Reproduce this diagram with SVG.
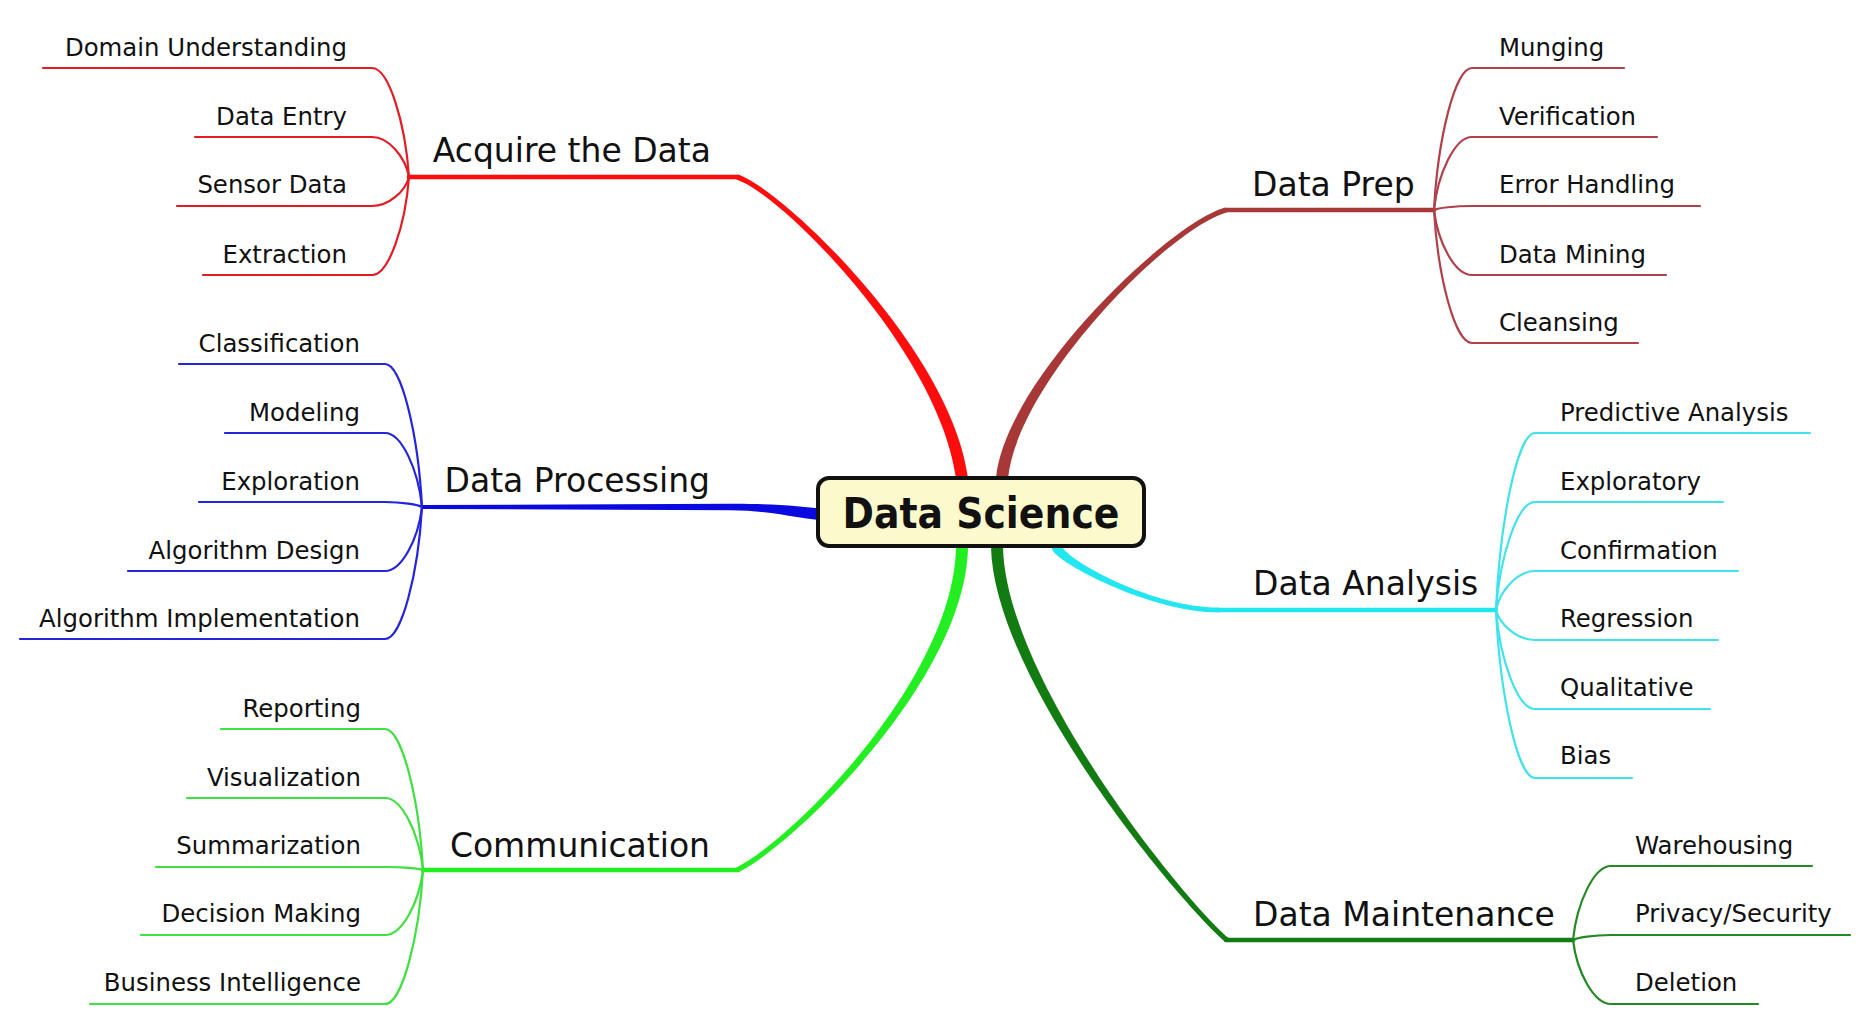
<svg xmlns="http://www.w3.org/2000/svg" width="1868" height="1026" viewBox="0 0 1868 1026">
  <style>
    .bg { fill: #ffffff; }
    .leaf { font-family: "DejaVu Sans", "Liberation Sans", sans-serif; font-size: 24.4px; fill: #111111; }
    .topic { font-family: "DejaVu Sans", "Liberation Sans", sans-serif; font-size: 33px; fill: #111111; }
    .root-text { font-family: "DejaVu Sans", "Liberation Sans", sans-serif; font-size: 42px; font-weight: bold; fill: #111111; }
    .root-box { fill: #fcf9cc; stroke: #111111; stroke-width: 4; }
    .twig { fill: none; stroke-width: 2.2; stroke-linecap: round; }
    .stem { fill: none; stroke-width: 4.6; stroke-linecap: round; }
    .red { stroke: #e31b23; } .red-f { fill: #ff0d0d; } .red-s { stroke: #ff0d0d; }
    .brown { stroke: #b0404a; } .brown-f { fill: #a83838; } .brown-s { stroke: #a83838; }
    .blue { stroke: #2424dc; } .blue-f { fill: #0a0ae0; } .blue-s { stroke: #0a0ae0; }
    .lime { stroke: #3fe03f; } .lime-f { fill: #22ee22; } .lime-s { stroke: #22ee22; }
    .cyan { stroke: #40e2ec; } .cyan-f { fill: #22e6f0; } .cyan-s { stroke: #22e6f0; }
    .forest { stroke: #228a22; } .forest-f { fill: #127c12; } .forest-s { stroke: #127c12; }
  </style>

  <rect class="bg" x="0" y="0" width="1868" height="1026"/>

  <!-- connectors: tapered main stems, then the thin twigs with their underlines -->
  <g id="connectors">
    <!-- Acquire the Data (red) -->
    <line class="stem red-s" x1="409" y1="177" x2="738" y2="177"/>
    <path class="red-f" d="M736.3,179.4 C779.3,192.4 939.1,350.8 956.1,478.8 L956.5,490 L968.3,490 L967.9,477.2 C950.9,349.2 780.7,187.6 737.7,174.6 Z"/>
    <path class="twig red" d="M43,68 H372 C388.7,68 405.3,122.5 409,177"/>
    <path class="twig red" d="M195,137 H372 C388.7,137 405.3,157 409,177"/>
    <path class="twig red" d="M177,206 H372 C388.7,206 405.3,191.5 409,177"/>
    <path class="twig red" d="M203,275 H372 C388.7,275 405.3,226 409,177"/>

    <!-- Data Prep (brown) -->
    <line class="stem brown-s" x1="1225" y1="210" x2="1434" y2="210"/>
    <path class="brown-f" d="M1225.4,207.6 C1169.4,222.6 1006,379.4 996,477.4 L996,490 L1008,490 L1008,478.6 C1018,380.6 1170.7,227.4 1226.7,212.4 Z"/>
    <path class="twig brown" d="M1624,68 H1472 C1454.9,68 1437.8,139 1434,210"/>
    <path class="twig brown" d="M1657,137 H1472 C1454.9,137 1437.8,173.5 1434,210"/>
    <path class="twig brown" d="M1700,206 H1472 C1454.9,206 1437.8,208 1434,210"/>
    <path class="twig brown" d="M1666,275 H1472 C1454.9,275 1437.8,242.5 1434,210"/>
    <path class="twig brown" d="M1638,343 H1472 C1454.9,343 1437.8,276.5 1434,210"/>

    <!-- Data Processing (blue) -->
    <path class="blue-f" d="M422,505 L730,503.8 C770,503.6 800,506 828,509.5 L828,521 C800,519 770,510.4 730,510.2 L422,509 Z"/>
    <path class="twig blue" d="M179,364 H385 C401.7,364 418.3,435.5 422,507"/>
    <path class="twig blue" d="M225,433 H385 C401.7,433 418.3,470 422,507"/>
    <path class="twig blue" d="M199,502 H385 C401.7,502 418.3,504.5 422,507"/>
    <path class="twig blue" d="M128,571 H385 C401.7,571 418.3,539 422,507"/>
    <path class="twig blue" d="M20,639 H385 C401.7,639 418.3,573 422,507"/>

    <!-- Data Analysis (cyan) -->
    <line class="stem cyan-s" x1="1218" y1="610" x2="1496" y2="610"/>
    <path class="cyan-f" d="M1219,607.5 C1150,607.5 1066.7,559.2 1061.7,546.2 L1059,534 L1049,536 L1052.3,549.8 C1057.3,562.8 1150,612.5 1219,612.5 Z"/>
    <path class="twig cyan" d="M1810,433 H1535 C1517.5,433 1499.9,521.5 1496,610"/>
    <path class="twig cyan" d="M1723,502 H1535 C1517.5,502 1499.9,556 1496,610"/>
    <path class="twig cyan" d="M1738,571 H1535 C1517.5,571 1499.9,590.5 1496,610"/>
    <path class="twig cyan" d="M1718,640 H1535 C1517.5,640 1499.9,625 1496,610"/>
    <path class="twig cyan" d="M1710,709 H1535 C1517.5,709 1499.9,659.5 1496,610"/>
    <path class="twig cyan" d="M1632,778 H1535 C1517.5,778 1499.9,694 1496,610"/>

    <!-- Communication (lime) -->
    <line class="stem lime-s" x1="423" y1="870" x2="738" y2="870"/>
    <path class="lime-f" d="M738.1,872.3 C791.1,847.3 966,680.1 968,547.1 L968,534 L956,534 L956,546.9 C954,679.9 788.9,842.7 735.9,867.7 Z"/>
    <path class="twig lime" d="M221,729 H385 C402.1,729 419.2,799.5 423,870"/>
    <path class="twig lime" d="M187,798 H385 C402.1,798 419.2,834 423,870"/>
    <path class="twig lime" d="M156,867 H385 C402.1,867 419.2,868.5 423,870"/>
    <path class="twig lime" d="M141,935 H385 C402.1,935 419.2,902.5 423,870"/>
    <path class="twig lime" d="M90,1004 H385 C402.1,1004 419.2,937 423,870"/>

    <!-- Data Maintenance (forest green) -->
    <line class="stem forest-s" x1="1226" y1="940" x2="1573" y2="940"/>
    <path class="forest-f" d="M1228.6,938.1 C1181.6,898.1 1006,679.9 1003,546.9 L1003,534 L991,534 L991,547.1 C994,680.1 1178.4,901.9 1225.4,941.9 Z"/>
    <path class="twig forest" d="M1812,866 H1611 C1593.9,866 1576.8,903 1573,940"/>
    <path class="twig forest" d="M1850,935 H1611 C1593.9,935 1576.8,937.5 1573,940"/>
    <path class="twig forest" d="M1758,1004 H1611 C1593.9,1004 1576.8,972 1573,940"/>
  </g>

  <!-- central topic -->
  <g id="node-data-science">
    <rect class="root-box" x="818" y="478" width="326" height="68" rx="11" ry="11"/>
    <text class="root-text" x="981" y="528" text-anchor="middle" textLength="277" lengthAdjust="spacingAndGlyphs">Data Science</text>
  </g>

  <!-- main topics -->
  <g id="node-acquire-the-data"><text class="topic" x="711" y="162" text-anchor="end">Acquire the Data</text></g>
  <g id="node-data-prep"><text class="topic" x="1252" y="196">Data Prep</text></g>
  <g id="node-data-processing"><text class="topic" x="710" y="492" text-anchor="end">Data Processing</text></g>
  <g id="node-data-analysis"><text class="topic" x="1253" y="595">Data Analysis</text></g>
  <g id="node-communication"><text class="topic" x="710" y="857" text-anchor="end">Communication</text></g>
  <g id="node-data-maintenance"><text class="topic" x="1253" y="926">Data Maintenance</text></g>

  <!-- Acquire the Data subtopics -->
  <g id="node-domain-understanding"><text class="leaf" x="347" y="56" text-anchor="end">Domain Understanding</text></g>
  <g id="node-data-entry"><text class="leaf" x="347" y="125" text-anchor="end">Data Entry</text></g>
  <g id="node-sensor-data"><text class="leaf" x="347" y="193" text-anchor="end">Sensor Data</text></g>
  <g id="node-extraction"><text class="leaf" x="347" y="263" text-anchor="end">Extraction</text></g>

  <!-- Data Prep subtopics -->
  <g id="node-munging"><text class="leaf" x="1499" y="56">Munging</text></g>
  <g id="node-verification"><text class="leaf" x="1499" y="125">Verification</text></g>
  <g id="node-error-handling"><text class="leaf" x="1499" y="193">Error Handling</text></g>
  <g id="node-data-mining"><text class="leaf" x="1499" y="263">Data Mining</text></g>
  <g id="node-cleansing"><text class="leaf" x="1499" y="331">Cleansing</text></g>

  <!-- Data Processing subtopics -->
  <g id="node-classification"><text class="leaf" x="360" y="352" text-anchor="end">Classification</text></g>
  <g id="node-modeling"><text class="leaf" x="360" y="421" text-anchor="end">Modeling</text></g>
  <g id="node-exploration"><text class="leaf" x="360" y="490" text-anchor="end">Exploration</text></g>
  <g id="node-algorithm-design"><text class="leaf" x="360" y="559" text-anchor="end">Algorithm Design</text></g>
  <g id="node-algorithm-implementation"><text class="leaf" x="360" y="627" text-anchor="end">Algorithm Implementation</text></g>

  <!-- Data Analysis subtopics -->
  <g id="node-predictive-analysis"><text class="leaf" x="1560" y="421">Predictive Analysis</text></g>
  <g id="node-exploratory"><text class="leaf" x="1560" y="490">Exploratory</text></g>
  <g id="node-confirmation"><text class="leaf" x="1560" y="559">Confirmation</text></g>
  <g id="node-regression"><text class="leaf" x="1560" y="627">Regression</text></g>
  <g id="node-qualitative"><text class="leaf" x="1560" y="696">Qualitative</text></g>
  <g id="node-bias"><text class="leaf" x="1560" y="764">Bias</text></g>

  <!-- Communication subtopics -->
  <g id="node-reporting"><text class="leaf" x="361" y="717" text-anchor="end">Reporting</text></g>
  <g id="node-visualization"><text class="leaf" x="361" y="786" text-anchor="end">Visualization</text></g>
  <g id="node-summarization"><text class="leaf" x="361" y="854" text-anchor="end">Summarization</text></g>
  <g id="node-decision-making"><text class="leaf" x="361" y="922" text-anchor="end">Decision Making</text></g>
  <g id="node-business-intelligence"><text class="leaf" x="361" y="991" text-anchor="end">Business Intelligence</text></g>

  <!-- Data Maintenance subtopics -->
  <g id="node-warehousing"><text class="leaf" x="1635" y="854">Warehousing</text></g>
  <g id="node-privacy-security"><text class="leaf" x="1635" y="922">Privacy/Security</text></g>
  <g id="node-deletion"><text class="leaf" x="1635" y="991">Deletion</text></g>
</svg>
